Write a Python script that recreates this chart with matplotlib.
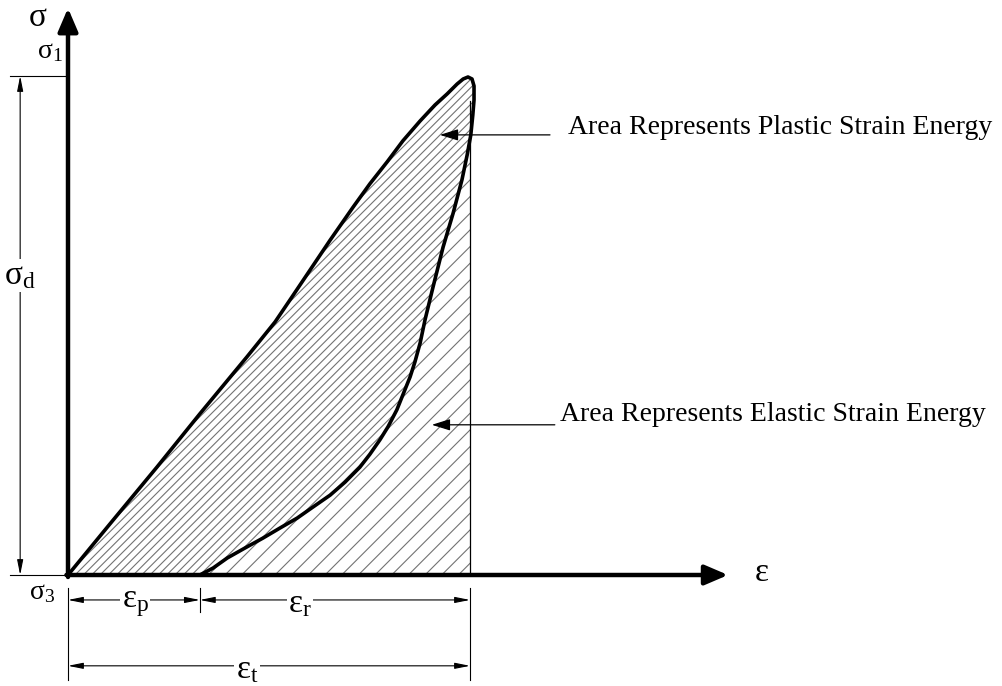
import numpy as np
import matplotlib.pyplot as plt

# loading branch (strain, stress), eps_t = 1, sigma_1 = 1
load_strain = [0.000, 0.104, 0.221, 0.328, 0.445, 0.515, 0.557, 0.602, 0.652, 0.709,
               0.751, 0.794, 0.833, 0.876, 0.913, 0.943, 0.968, 0.983, 0.995, 1.005,
               1.010, 1.010, 1.007, 1.002]
load_stress = [0.000, 0.102, 0.216, 0.323, 0.437, 0.507, 0.557, 0.611, 0.671, 0.737,
               0.784, 0.828, 0.870, 0.910, 0.942, 0.964, 0.984, 0.994, 0.998, 0.994,
               0.980, 0.952, 0.922, 0.882]

# unloading branch
unload_strain = [1.002, 0.993, 0.980, 0.958, 0.933, 0.908, 0.888, 0.876, 0.863, 0.851,
                 0.833, 0.818, 0.796, 0.776, 0.751, 0.726, 0.689, 0.652, 0.609, 0.570,
                 0.527, 0.485, 0.440, 0.396, 0.361, 0.328]
unload_stress = [0.882, 0.842, 0.792, 0.725, 0.657, 0.577, 0.511, 0.465, 0.427, 0.397,
                 0.361, 0.331, 0.297, 0.271, 0.242, 0.216, 0.186, 0.160, 0.136, 0.114,
                 0.094, 0.074, 0.054, 0.034, 0.014, 0.000]

eps_p = 0.328
eps_t = 1.0
sig_1 = 1.0

serif = 'Liberation Serif'
plt.rcParams['font.family'] = [serif, 'DejaVu Serif']
plt.rcParams['hatch.linewidth'] = 0.8

fig = plt.figure(figsize=(10.02, 6.86), dpi=100)
ax = fig.add_axes([0, 0, 1, 1])
ax.set_xlim(-68 / 402, (1002 - 68) / 402)
ax.set_ylim((575 - 686) / 499, 575 / 499)
ax.axis('off')

# hatched areas
loop_x = load_strain + unload_strain[1:]
loop_y = load_stress + unload_stress[1:]
ax.fill(loop_x, loop_y, facecolor='none', edgecolor='0.45', hatch='////', linewidth=0)
el_x = unload_strain + [eps_t, eps_t]
el_y = unload_stress + [0.0, unload_stress[0]]
ax.fill(el_x, el_y, facecolor='none', edgecolor='0.45', hatch='//', linewidth=0)

# curve
ax.plot(loop_x, loop_y, color='black', lw=2.6, solid_joinstyle='round',
        solid_capstyle='round')
ax.plot([eps_t, eps_t], [0, 0.95], color='black', lw=0.9)

# main axes with arrows
axis_arrow = dict(arrowstyle='-|>,head_length=0.7,head_width=0.3', lw=3.2,
                  color='black', shrinkA=0, shrinkB=0, mutation_scale=20)
ax.annotate('', xy=(0, 1.136), xytext=(0, -0.004), arrowprops=axis_arrow)
ax.annotate('', xy=(1.642, 0), xytext=(-0.004, 0), arrowprops=axis_arrow)

dim_arrow = dict(arrowstyle='<|-|>,head_length=0.9,head_width=0.18', lw=0.8,
                 color='black', shrinkA=0, shrinkB=0, mutation_scale=10)
thin = dict(color='black', lw=0.8)

# sigma_d dimension on the left
ax.plot([-0.144, 0], [sig_1, sig_1], **thin)
ax.plot([-0.144, 0], [0, 0], **thin)
ax.annotate('', xy=(-0.119, sig_1), xytext=(-0.119, 0), arrowprops=dim_arrow)
ax.text(-0.119, 0.60, '$\\mathregular{σ_d}$', fontsize=24, ha='center', va='center',
        bbox=dict(facecolor='white', edgecolor='none', pad=1))

# strain dimensions at the bottom
ax.plot([0, 0], [-0.026, -0.210], **thin)
ax.plot([eps_p, eps_p], [-0.026, -0.074], **thin)
ax.plot([eps_t, eps_t], [-0.026, -0.210], **thin)
ax.annotate('', xy=(0, -0.050), xytext=(eps_p, -0.050), arrowprops=dim_arrow)
ax.annotate('', xy=(eps_p, -0.050), xytext=(eps_t, -0.050), arrowprops=dim_arrow)
ax.annotate('', xy=(0, -0.182), xytext=(eps_t, -0.182), arrowprops=dim_arrow)
lab_box = dict(facecolor='white', edgecolor='none', pad=1)
ax.text(0.167, -0.058, '$\\mathregular{ε_p}$', fontsize=24, ha='center', va='center',
        bbox=lab_box)
ax.text(0.577, -0.058, '$\\mathregular{ε_r}$', fontsize=24, ha='center', va='center',
        bbox=lab_box)
ax.text(0.445, -0.190, '$\\mathregular{ε_t}$', fontsize=24, ha='center', va='center',
        bbox=lab_box)

# axis symbols
ax.text(-0.075, 1.116, 'σ', fontsize=24, ha='center', va='center')
ax.text(-0.045, 1.048, '$\\mathregular{σ_1}$', fontsize=20, ha='center', va='center')
ax.text(-0.065, -0.035, '$\\mathregular{σ_3}$', fontsize=20, ha='center', va='center')
ax.text(1.726, 0.005, 'ε', fontsize=24, ha='center', va='center')

# annotations
note_arrow = dict(arrowstyle='-|>,head_length=0.8,head_width=0.25', lw=0.9,
                  color='black', shrinkA=0, shrinkB=0, mutation_scale=14)
ax.annotate('', xy=(0.925, 0.882), xytext=(1.199, 0.882), arrowprops=note_arrow)
ax.annotate('', xy=(0.905, 0.301), xytext=(1.211, 0.301), arrowprops=note_arrow)
ax.text(1.244, 0.896, 'Area Represents Plastic Strain Energy', fontsize=20,
        ha='left', va='center')
ax.text(1.224, 0.321, 'Area Represents Elastic Strain Energy', fontsize=20,
        ha='left', va='center')

fig.savefig('out.png', dpi=100)
